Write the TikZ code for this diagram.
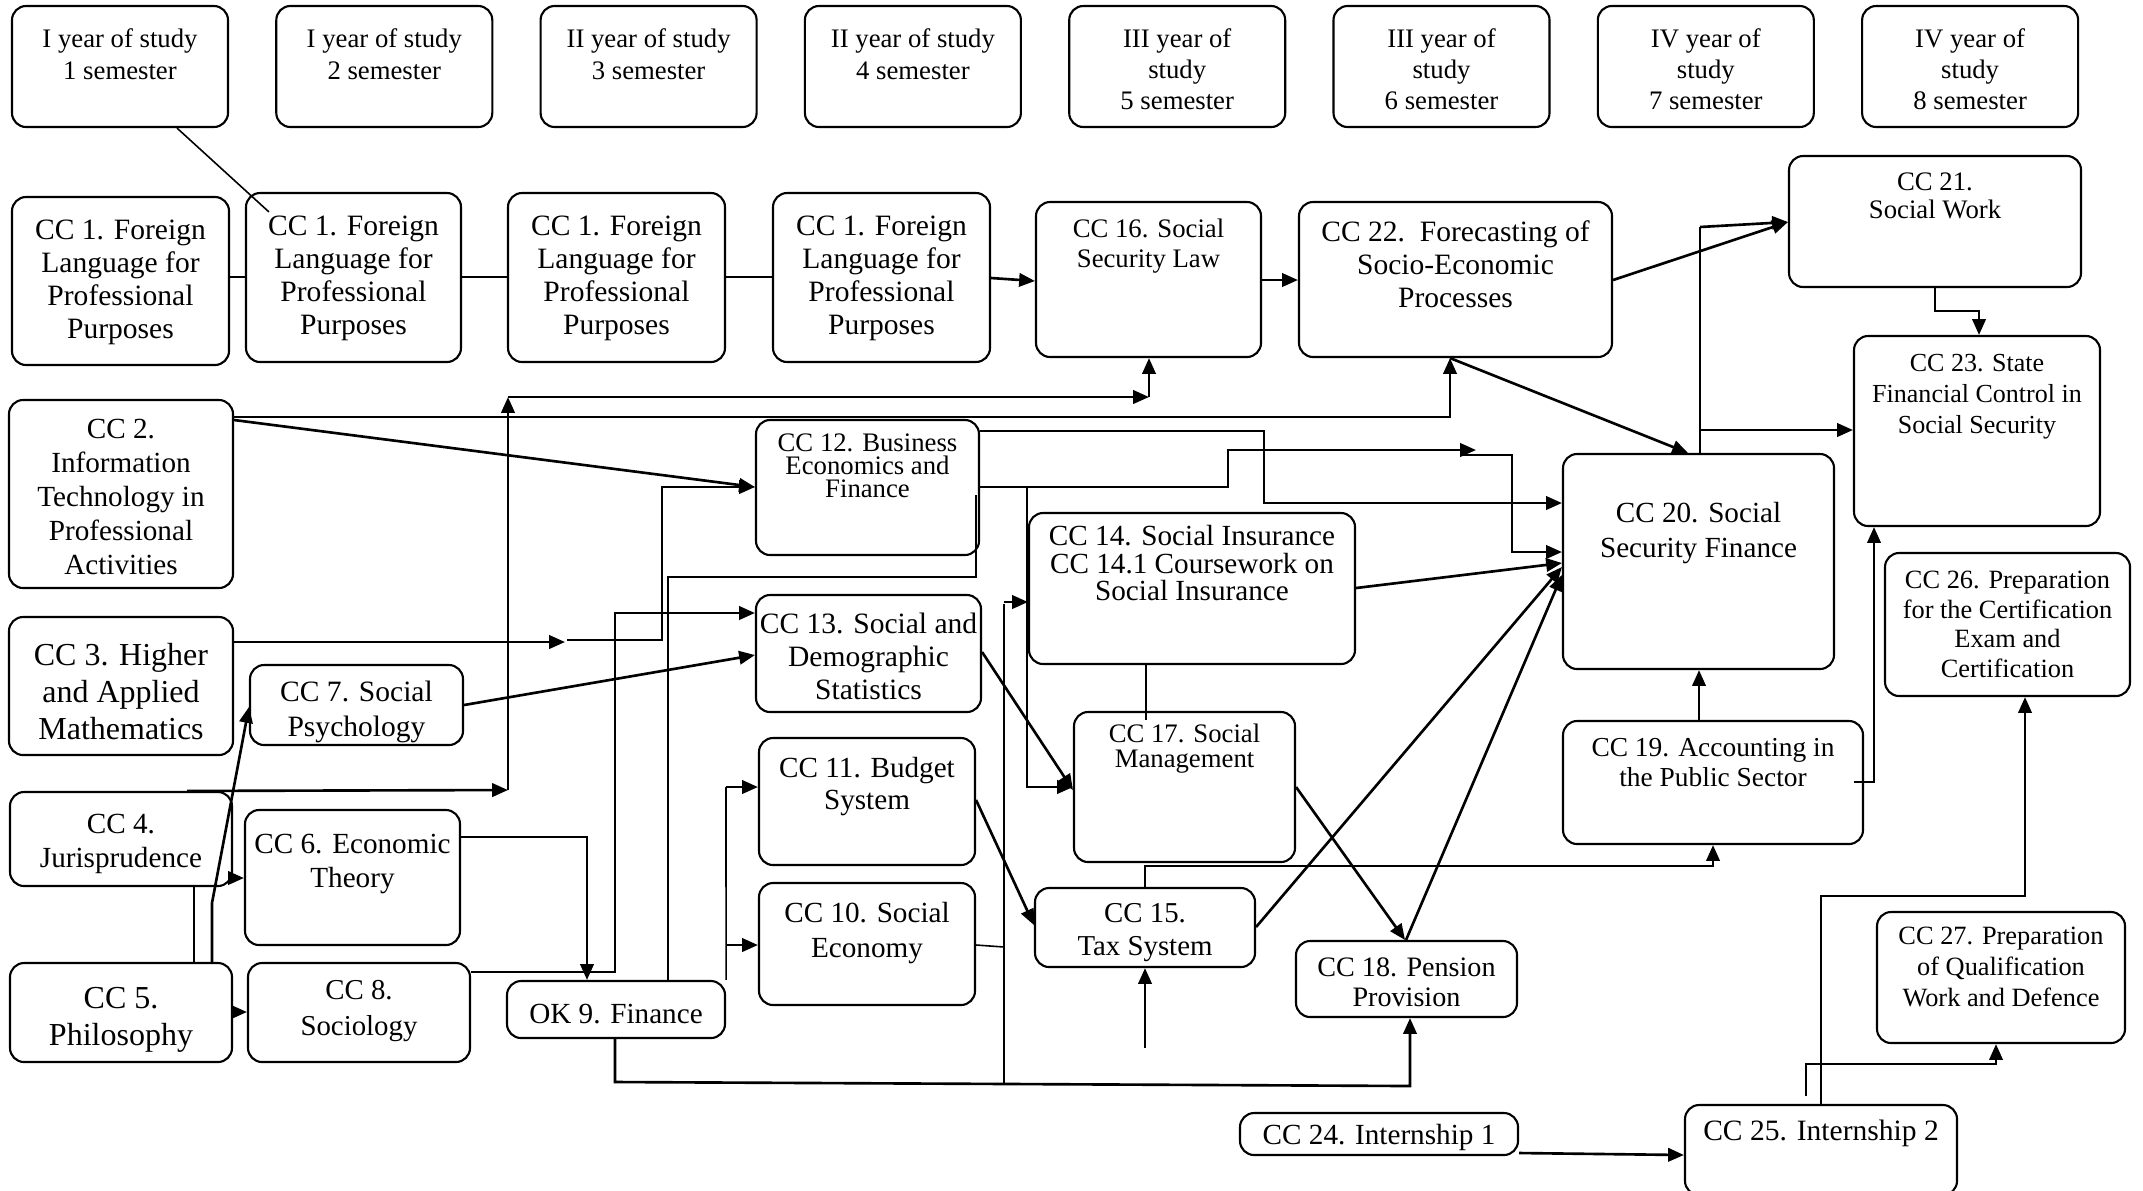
\documentclass[tikz,border=0pt]{standalone}
\usepackage{fontspec}
\setmainfont{Liberation Serif}
\usepackage{tikz}
\usetikzlibrary{arrows.meta, % for triangle tips
                calc, %for offset ends
                positioning}

% rounded box, text hung from its top edge
\newcommand\course[8][fs={8.3}{9.4}]{%
  \node[box, minimum width={((#5)-(#3))*0.01cm}, minimum height={((#6)-(#4))*0.01cm}]
        (#2) at ({((#3)+(#5))/2},{((#4)+(#6))/2}) {};
  \node[boxtext, #1] (#2t) at ({((#3)+(#5))/2},#7) {#8};
}

\begin{document}
\begin{tikzpicture}[x=0.01cm, y=-0.01cm,
                    box/.style={draw, rectangle, rounded corners=4pt, line width=0.6pt, inner sep=0pt},
                    boxtext/.style={anchor=north, align=center, inner sep=0pt},
                    fs/.style 2 args={font={\fontsize{#1}{#2}\selectfont\lineskiplimit=-5pt}},
                    link/.style={line width=0.75pt},
                    thinline/.style={line width=0.45pt},
                    arrow/.style={link, -{Triangle[length=4.5pt,width=3.8pt]}}
                    ]
    \fill[white] (0,0) rectangle (2143,1190);
    \useasboundingbox (0,0) rectangle (2143,1190);

    % semesters
    \foreach \n/\yr in {1/I,2/I,3/II,4/II} {
        \course[fs={7.6}{9.1}]{s\n}{12+(\n-1)*264.3}{6}{228+(\n-1)*264.3}{127}{28}{\yr\ year of study\\\n\ semester}
    }
    \foreach \n/\yr in {5/III,6/III,7/IV,8/IV} {
        \course[fs={7.6}{8.8}]{s\n}{12+(\n-1)*264.3}{6}{228+(\n-1)*264.3}{127}{28}{\yr\ year of\\study\\\n\ semester}
    }

    % CC 1 over four semesters
    \foreach \n/\xa/\ya/\xb/\yb in {a/12/197/229/365, b/246/193/461/362, c/508/193/725/362, d/773/193/990/362} {
        \course[fs={8.4}{9.45}]{cc1\n}{\xa}{\ya}{\xb}{\yb}{\ya+22}{CC 1. Foreign\\Language for\\Professional\\Purposes}
    }

    \course[fs={8.3}{9.7}]{cc2}{9}{400}{233}{588}{418}{CC 2.\\Information\\Technology in\\Professional\\Activities}
    \course[fs={9.1}{10.5}]{cc3}{9}{617}{233}{755}{643}{CC 3. Higher\\and Applied\\Mathematics}
    \course[fs={8.3}{9.7}]{cc4}{10}{792}{232}{886}{813}{CC 4.\\Jurisprudence}
    \course[fs={9.1}{10.5}]{cc5}{10}{963}{232}{1062}{987}{CC 5.\\Philosophy}
    \course[fs={8.3}{9.7}]{cc6}{245}{810}{460}{945}{833}{CC 6. Economic\\Theory}
    \course[fs={8.4}{10}]{cc7}{250}{665}{463}{745}{680}{CC 7. Social\\Psychology}
    \course[fs={8.2}{10}]{cc8}{248}{963}{470}{1062}{980}{CC 8.\\Sociology}
    \course{ok9}{507}{981}{725}{1038}{1003}{OK 9. Finance}
    \course[fs={8.3}{9.7}]{cc10}{759}{883}{975}{1005}{902}{CC 10. Social\\Economy}
    \course[fs={8.3}{9.1}]{cc11}{759}{738}{975}{865}{757}{CC 11. Budget\\System}
    \course[fs={7.6}{6.6}]{cc12}{756}{420}{979}{555}{433}{CC 12. Business\\Economics and\\Finance}
    \course[fs={8.4}{9.4}]{cc13}{756}{595}{981}{712}{612}{CC 13. Social and\\Demographic\\Statistics}
    \course[fs={8.3}{7.7}]{cc14}{1029}{513}{1355}{664}{525}{CC 14. Social Insurance\\CC 14.1 Coursework on\\Social Insurance}
    \course[fs={8.2}{9.4}]{cc15}{1035}{888}{1255}{967}{903}{CC 15.\\Tax System}
    \course[fs={7.6}{8.5}]{cc16}{1036}{202}{1261}{357}{218}{CC 16. Social\\Security Law}
    \course[fs={7.6}{7.1}]{cc17}{1074}{712}{1295}{862}{723}{CC 17. Social\\Management}
    \course[fs={8}{8.5}]{cc18}{1296}{941}{1517}{1017}{957}{CC 18. Pension\\Provision}
    \course[fs={7.8}{8.5}]{cc19}{1563}{721}{1863}{844}{738}{CC 19. Accounting in\\the Public Sector}
    \course[fs={8.3}{9.7}]{cc20}{1563}{454}{1834}{669}{502}{CC 20. Social\\Security Finance}
    \course[fs={7.6}{8}]{cc21}{1789}{156}{2081}{287}{172}{CC 21.\\Social Work}
    \course[fs={8.4}{9.4}]{cc22}{1299}{202}{1612}{357}{220}{CC 22.\ \ Forecasting of\\Socio-Economic\\Processes}
    \course[fs={7.4}{8.8}]{cc23}{1854}{336}{2100}{526}{354}{CC 23. State\\Financial Control in\\Social Security}
    \course{cc24}{1240}{1113}{1518}{1155}{1124}{CC 24. Internship 1}
    \course[fs={8.4}{9.4}]{cc25}{1685}{1105}{1957}{1195}{1119}{CC 25. Internship 2}
    \course[fs={7.5}{8.5}]{cc26}{1885}{553}{2130}{696}{570}{CC 26. Preparation\\for the Certification\\Exam and\\Certification}
    \course[fs={7.5}{8.8}]{cc27}{1877}{912}{2125}{1043}{926}{CC 27. Preparation\\of Qualification\\Work and Defence}

    % top rows
    \draw[thinline] (s1.south -| 177,0) -- ($(cc1b.north west)+(24,20)$);
    \draw[link] (cc1a.east |- 0,277) -- (cc1b.west |- 0,277);
    \draw[link] (cc1b.east |- 0,277) -- (cc1c.west |- 0,277);
    \draw[link] (cc1c.east |- 0,277) -- (cc1d.west |- 0,277);
    \draw[arrow] (cc1d.east |- 0,278) -- (cc16.west |- 0,281);
    \draw[arrow] (cc16.east |- 0,280) -- (cc22.west |- 0,280);
    \draw[arrow] (cc22.east |- 0,280) -- (cc21.west |- 0,222);
    \draw[arrow] (cc21.south -| 1935,0) -- (1935,311) -- (1979,311) -- (cc23.north -| 1979,0);
    \draw[thinline] (cc20.north -| 1700,0) -- (1700,227);
    \draw[arrow] (1700,227) -- (cc21.west |- 0,222);
    \draw[arrow] (1700,430) -- (cc23.west |- 0,430);
    \draw[arrow] (cc22.south -| 1450,0) -- (cc20.north -| 1688,0);

    % left column
    \draw[arrow] (cc2.east |- 0,417) -- (1450,417) -- (cc22.south -| 1450,0);
    \draw[arrow] (cc2.east |- 0,420) -- (cc12.west |- 0,487);
    \draw[arrow] (cc3.east |- 0,642) -- (565,642);
    \draw[arrow] (567,640) -- (662,640) -- (662,487) -- (cc12.west |- 0,487);
    \draw[arrow] (cc4.north -| 187,0) -- (508,790);
    \draw[arrow] (508,790) -- (508,397);
    \draw[arrow] (508,397) -- (1149,397);
    \draw[arrow] (1149,397) -- (cc16.south -| 1149,0);
    \draw[link] (cc4.south -| 194,0) -- (cc5.north -| 194,0);
    \draw[arrow] (cc5.north -| 212,0) -- (212,903) -- (cc7.west |- 0,707);
    \draw[arrow] (cc4.east |- 0,878) -- (cc6.west |- 0,878);
    \draw[arrow] (cc5.east |- 0,1012) -- (cc8.west |- 0,1012);
    \draw[arrow] (cc7.east |- 0,705) -- (cc13.west |- 0,655);
    \draw[arrow] (cc6.east |- 0,837) -- (587,837) -- (ok9.north -| 587,0);
    \draw[arrow] (cc8.east |- 0,972) -- (615,972) -- (615,613) -- (cc13.west |- 0,613);

    % middle
    \draw[thinline] (ok9.north -| 668,0) -- (668,577) -- (976,577) -- (976,495);
    \draw[thinline] (ok9.north east) -- (726,787);
    \draw[arrow] (726,787) -- (cc11.west |- 0,787);
    \draw[arrow] (726,945) -- (cc10.west |- 0,945);
    \draw[arrow] (ok9.south -| 615,0) -- (615,1082) -- (1410,1086) -- (cc18.south -| 1410,0);
    \draw[thinline] (cc10.east |- 0,945) -- (1004,947);
    \draw[thinline] (1004,1083) -- (1004,604);
    \draw[arrow] (1004,602) -- (cc14.west |- 0,602);
    \draw[arrow] (cc12.east |- 0,431) -- (1264,431) -- (1264,503) -- (cc20.west |- 0,503);
    \draw[arrow] (cc12.east |- 0,487) -- (1228,487) -- (1228,450) -- (1476,450);
    \draw[arrow] (1463,455) -- (1512,455) -- (1512,552) -- (cc20.west |- 0,552);
    \draw[arrow] (1027,487) -- (1027,787) -- (cc17.west |- 0,787);
    \draw[arrow] (cc13.east |- 0,652) -- (cc17.west |- 0,790);
    \draw[thinline] (cc14.south -| 1146,0) -- (1146,720);
    \draw[arrow] (cc14.east |- 0,588) -- (cc20.west |- 0,563);
    \draw[arrow] (cc11.east |- 0,800) -- (cc15.west |- 0,925);
    \draw[arrow] (cc15.east |- 0,927) -- (cc20.west |- 0,567);
    \draw[arrow] (cc17.east |- 0,787) -- (cc18.north -| 1405,0);
    \draw[arrow] (cc18.north -| 1406,0) -- (cc20.west |- 0,575);
    \draw[arrow] (cc15.north -| 1145,0) -- (1145,866) -- (1713,866) -- (cc19.south -| 1713,0);
    \coordinate (tx) at (1145,1048);
    \draw[arrow] (tx) -- (cc15.south -| tx);

    % right side
    \draw[arrow] (cc19.north -| 1699,0) -- (cc20.south -| 1699,0);
    \draw[arrow] ($(cc19.east |- 0,782)+(-10,0)$) -- (1874,782) -- (cc23.south -| 1874,0);
    \draw[arrow] (cc24.east |- 0,1153) -- (cc25.west |- 0,1155);
    \draw[arrow] (cc25.north -| 1821,0) -- (1821,896) -- (2025,896) -- (cc26.south -| 2025,0);
    \draw[arrow] (1806,1096) -- (1806,1064) -- (1996,1064) -- (cc27.south -| 1996,0);
\end{tikzpicture}
\end{document}
